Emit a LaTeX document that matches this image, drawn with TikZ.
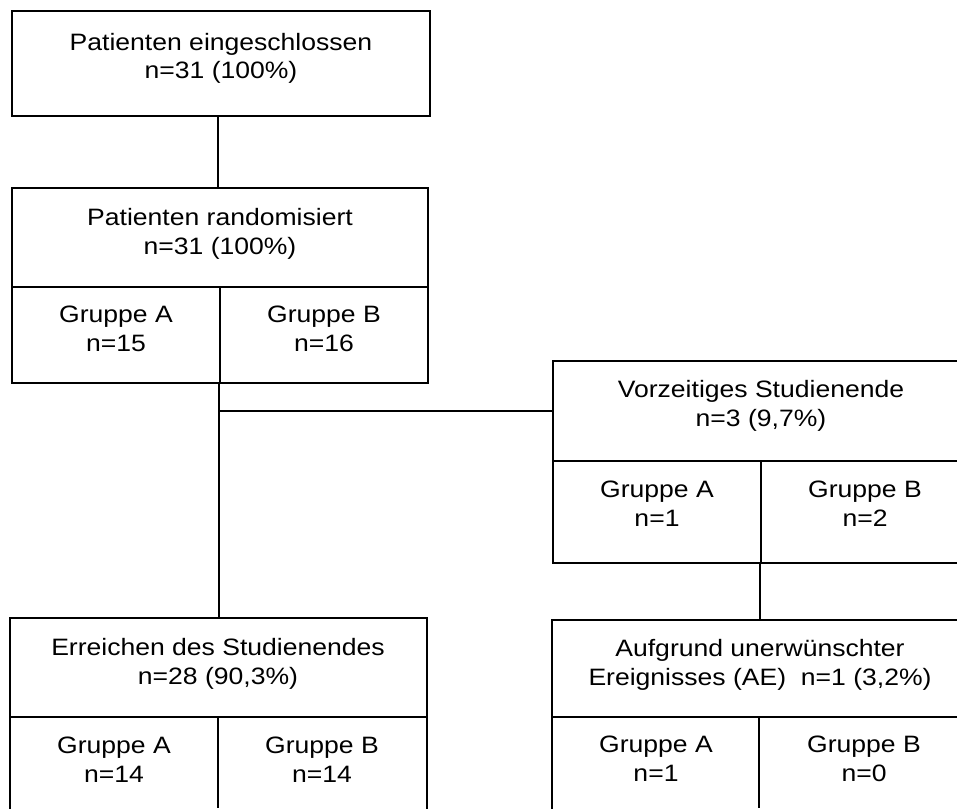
\documentclass[tikz,border=0pt]{standalone}
\usepackage{fontspec}
\setmainfont{Liberation Sans}[FakeStretch=1.12]
\begin{document}
\begin{tikzpicture}[x=1pt,y=-1pt,line width=1.7pt,
  box/.style={draw,rectangle,anchor=north west,inner sep=0pt,outer sep=0pt},
  txt/.style={font=\fontsize{23.7}{29}\selectfont,align=center,inner sep=0pt,text height=46pt,anchor=north},
  thickdiv/.style={line width=2.6pt}]
\useasboundingbox (0,0) rectangle (957,808);
% boxes
\node[box,minimum width=418pt,minimum height=105pt] (top) at (12,11) {};
\node[box,minimum width=416pt,minimum height=195pt] (rand) at (12,188) {};
\node[box,minimum width=416pt,minimum height=202pt] (vz) at (553,361) {};
\node[box,minimum width=417pt,minimum height=195pt] (bl) at (10,618) {};
\node[box,minimum width=416pt,minimum height=195pt] (br) at (552,620) {};
% helper coordinates
\coordinate (xa) at (218,0);
\coordinate (xb) at (219,0);
\coordinate (xc) at (760,0);
\coordinate (yb) at (0,411);
% dividers
\draw (rand.west |- 0,287) -- (rand.east |- 0,287);
\draw[thickdiv] (220,287) -- (rand.south -| 220,0);
\draw (vz.west |- 0,461) -- (vz.east |- 0,461);
\draw (761,461) -- (vz.south -| 761,0);
\draw (bl.west |- 0,717) -- (bl.east |- 0,717);
\draw[thickdiv] (218,717) -- (218,808);
\draw (br.west |- 0,717) -- (br.east |- 0,717);
\draw (759,717) -- (759,808);
% connectors
\draw (top.south -| xa) -- (rand.north -| xa);
\draw (rand.south -| xb) -- (bl.north -| xb);
\coordinate (jn) at (xb |- yb);
\draw (jn) -- (jn -| vz.west);
\draw (vz.south -| xc) -- (br.north -| xc);
% texts
\node[txt,font=\fontsize{23.7}{28}\selectfont,text height=45pt] (t1) at (221,33) {Patienten eingeschlossen\\n=31 (100\%)};
\node[txt,font=\fontsize{23.7}{28.3}\selectfont,text height=45.3pt] (t2) at (220,208) {Patienten randomisiert\\n=31 (100\%)};
\node[txt] (t2a) at (116,305) {Gruppe A\\n=15};
\node[txt] (t2b) at (324,305) {Gruppe B\\n=16};
\node[txt] (t3) at (761,380) {Vorzeitiges Studienende\\n=3 (9,7\%)};
\node[txt] (t3a) at (657,480) {Gruppe A\\n=1};
\node[txt] (t3b) at (865,480) {Gruppe B\\n=2};
\node[txt] (t4) at (218,638) {Erreichen des Studienendes\\n=28 (90,3\%)};
\node[txt] (t4a) at (114,736) {Gruppe A\\n=14};
\node[txt] (t4b) at (322,736) {Gruppe B\\n=14};
\node[txt] (t5) at (760,638.5) {Aufgrund unerwünschter\\Ereignisses (AE)\ \ n=1 (3,2\%)};
\node[txt] (t5a) at (656,735) {Gruppe A\\n=1};
\node[txt] (t5b) at (864,735) {Gruppe B\\n=0};
\end{tikzpicture}
\end{document}
